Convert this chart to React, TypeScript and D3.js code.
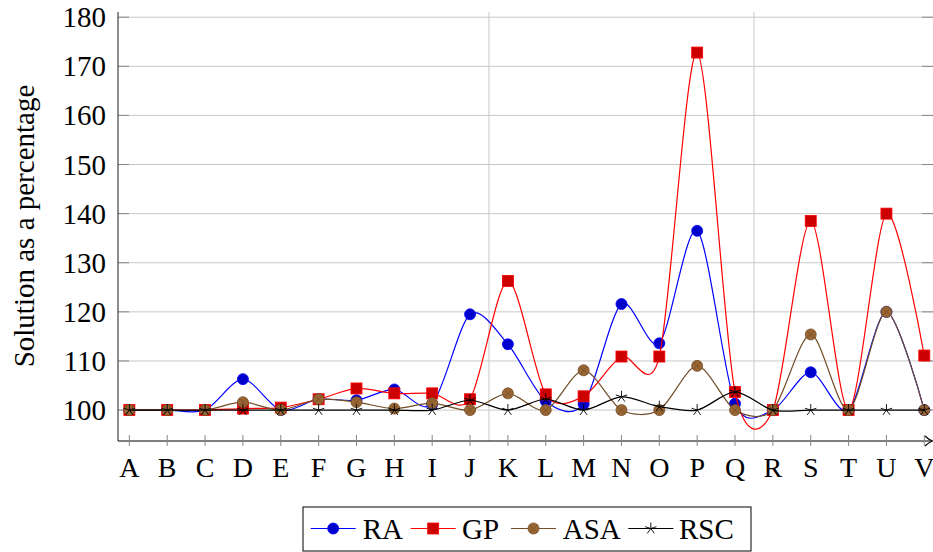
import React from "react";
import * as d3 from "d3";

const categories = ["A","B","C","D","E","F","G","H","I","J","K","L","M","N","O","P","Q","R","S","T","U","V"];
const RA = [100,100,100,106.3,100,102.2,102,104.2,101.2,119.5,113.4,101.8,101.2,121.6,113.6,136.5,101.3,100,107.7,100,120,100];
const GP = [100,100,100,100.3,100.5,102.2,104.4,103.4,103.4,102.2,126.3,103.2,102.8,110.9,110.9,172.8,103.7,100,138.5,100,140,111.1];
const ASA = [100,100,100,101.6,100,102.2,101.6,100.3,101.4,100,103.4,100,108.1,100,100,109,100,100,115.4,100,120,100];
const RSC = [100,100,100,100,100,100,100,100,100,102,100,102.2,100,102.7,100.7,100,103.7,100,100,100,100,100];
const yTicks = [100,110,120,130,140,150,160,170,180];
const separators = [9.5, 16.5];
const seriesNames = ["RA","GP","ASA","RSC"];

const W = 933, H = 552;
const FONT = "'Liberation Serif', 'Times New Roman', Tinos, 'DejaVu Serif', 'Noto Serif', Times, serif";

const x = d3.scaleLinear().domain([-0.3, 21.23]).range([118, 933]);
const y = d3.scaleLinear().domain([93.7, 181.06]).range([441, 12]);

type Style = { name: string; data: number[]; line: string; fill: string; mark: string };
const series: Style[] = [
  { name: seriesNames[0], data: RA, line: "#0000ff", fill: "#0000cc", mark: "circle" },
  { name: seriesNames[1], data: GP, line: "#ff0000", fill: "#cc0000", mark: "square" },
  { name: seriesNames[2], data: ASA, line: "#734d26", fill: "#996633", mark: "otimes" },
  { name: seriesNames[3], data: RSC, line: "#000000", fill: "#000000", mark: "star" },
];

function Marker({ s, cx, cy }: { s: Style; cx: number; cy: number }) {
  const r = 5.5;
  if (s.mark === "circle") return <circle cx={cx} cy={cy} r={r} fill={s.fill} stroke={s.line} strokeWidth={0.8} />;
  if (s.mark === "square")
    return <rect x={cx - r} y={cy - r} width={2 * r} height={2 * r} fill={s.fill} stroke={s.line} strokeWidth={0.8} />;
  if (s.mark === "otimes") {
    const d = r * 0.707;
    return (
      <g>
        <circle cx={cx} cy={cy} r={r} fill={s.fill} stroke={s.line} strokeWidth={0.8} />
        <path d={`M${cx - d},${cy - d}L${cx + d},${cy + d}M${cx - d},${cy + d}L${cx + d},${cy - d}`} stroke={s.line} strokeWidth={0.7} />
      </g>
    );
  }
  const rr = 6;
  let p = "";
  for (let k = 0; k < 5; k++) {
    const a = (-90 + k * 72) * Math.PI / 180;
    p += `M${cx},${cy}L${cx + rr * Math.cos(a)},${cy + rr * Math.sin(a)}`;
  }
  return <path d={p} stroke="#000" strokeWidth={0.9} fill="none" />;
}

const textStyle = { fontFamily: FONT };

export default function App() {
  const line = d3
    .line<number>()
    .x((_, i) => x(i))
    .y((v) => y(v))
    .curve(d3.curveCardinal.tension(0.15));

  const legendItems = [
    { lx: 310.7, tx: 362.7 },
    { lx: 410.7, tx: 462 },
    { lx: 511, tx: 562.7 },
    { lx: 628.3, tx: 679 },
  ];
  const ly = 528.5;

  return (
    <svg width={W} height={H} style={{ position: "absolute", left: 0, top: 0, background: "#fff", fontFamily: FONT }}>
      <rect x={0} y={0} width={W} height={H} fill="#fff" />
      {yTicks.map((t) => (
        <line key={"g" + t} x1={x(-0.3)} x2={x(21.23)} y1={y(t)} y2={y(t)} stroke="#c8c8c8" strokeWidth={1} />
      ))}
      {separators.map((s) => (
        <line key={"s" + s} x1={x(s)} x2={x(s)} y1={y(181.06)} y2={y(93.7)} stroke="#c8c8c8" strokeWidth={1} />
      ))}
      {yTicks.map((t) => (
        <g key={"t" + t}>
          <line x1={118} x2={129} y1={y(t)} y2={y(t)} stroke="#888" strokeWidth={1} />
          <line x1={922} x2={933} y1={y(t)} y2={y(t)} stroke="#888" strokeWidth={1} />
          <text x={106} y={y(t) + 10} textAnchor="end" fontSize={29} fill="#000" style={textStyle}>{t}</text>
        </g>
      ))}
      <line x1={118} x2={118} y1={y(181.06)} y2={y(93.7)} stroke="#404040" strokeWidth={1.2} />
      <line x1={118} x2={931} y1={441} y2={441} stroke="#000" strokeWidth={1.2} />
      <path d="M925,436 Q929,439.8 932.5,441 Q929,442.2 925,446" stroke="#000" strokeWidth={1.2} fill="none" />
      {categories.map((c, i) => (
        <g key={c}>
          <line x1={x(i)} x2={x(i)} y1={435} y2={446} stroke="#888" strokeWidth={1} />
          <text x={x(i)} y={477} textAnchor="middle" fontSize={28} fill="#000" style={textStyle}>{c}</text>
        </g>
      ))}
      <text transform="translate(34,226) rotate(-90)" textAnchor="middle" fontSize={29} fill="#000" style={textStyle}>
        Solution as a percentage
      </text>
      {series.map((s) => (
        <g key={s.name}>
          <path d={line(s.data) || ""} fill="none" stroke={s.line} strokeWidth={1.2} />
          {s.data.map((v, i) => (
            <Marker key={i} s={s} cx={x(i)} cy={y(v)} />
          ))}
        </g>
      ))}
      <rect x={303} y={507} width={448} height={44} fill="#fff" stroke="#000" strokeWidth={1} />
      {series.map((s, k) => (
        <g key={"l" + s.name}>
          <line x1={legendItems[k].lx} x2={legendItems[k].lx + 45} y1={ly} y2={ly} stroke={s.line} strokeWidth={1.2} />
          <Marker s={s} cx={legendItems[k].lx + 22.5} cy={ly} />
          <text x={legendItems[k].tx} y={ly + 10} fontSize={29} fill="#000" style={textStyle}>{s.name}</text>
        </g>
      ))}
    </svg>
  );
}
